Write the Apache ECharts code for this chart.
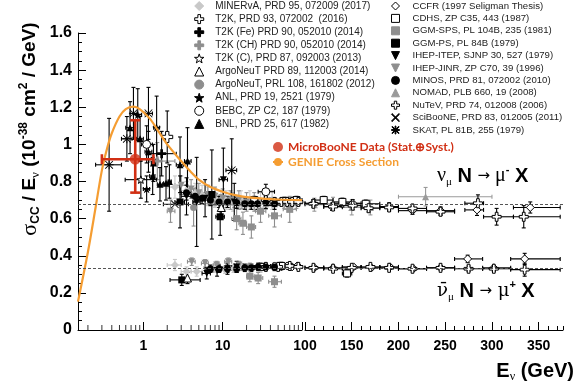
<!DOCTYPE html>
<html>
<head>
<meta charset="utf-8">
<script src="https://cdn.jsdelivr.net/npm/echarts@6/dist/echarts.min.js"></script>
<style>
html, body { margin: 0; padding: 0; background: #fff; }
#chart { width: 579px; height: 390px; }
</style>
</head>
<body>
<div id="chart"></div>
<script>
/* GENIE 预测曲线 */
var genieE = [0.15, 0.2, 0.25, 0.3, 0.35, 0.4, 0.5, 0.6, 0.75, 0.9, 1.2, 1.5, 2, 3, 4, 5, 7, 10, 15, 20, 30, 50, 100];
var genieXsec = [0.153, 0.42, 0.66, 0.86, 0.98, 1.06, 1.15, 1.19, 1.203, 1.19, 1.14, 1.08, 1.0, 0.91, 0.85, 0.81, 0.77, 0.745, 0.725, 0.716, 0.709, 0.703, 0.70];

/* 世界平均 (虚线) */
var nuAvg = 0.677;
var nubarAvg = 0.334;

/* 数据点: [E, sigma/E, E下限, E上限, 误差(上), 误差(下)] */
var microboone = [[0.79, 0.92, 0.30, 1.34, 0.21, 0.18]];

var minervaNu = [[2.5,0.77,2,3,0.06],[3.5,0.75,3,4,0.05],[4.5,0.74,4,5,0.05],[5.5,0.73,5,6,0.05],[6.5,0.72,6,7,0.05],[8,0.71,7,9,0.05],[9.5,0.70,9,10,0.05],[11,0.70,10,12,0.05],[13.5,0.69,12,15,0.05],[17,0.70,15,20,0.05],[22,0.70,20,25,0.05],[30,0.69,25,35,0.05],[42,0.70,35,50,0.05]];
var minervaNubar = [[2.5,0.35,2,3,0.03],[3.5,0.315,3,4,0.025],[4.7,0.315,4,5.5,0.025],[8,0.33,7,9,0.02],[10.7,0.325,9.5,12,0.02],[13.7,0.33,12,15,0.02],[17,0.34,15,20,0.02],[22,0.335,20,25,0.02],[30,0.33,25,35,0.02]];
var t2kNu = [[2.0,1.04,2.0,2.0,0.14]];
var t2kFeNu = [[1.7,0.95,1.1,2.6,0.12]];
var t2kChNu = [[1.5,0.91,1.2,2.5,0.1]];
var t2kCNu = [[0.93,0.81,0.59,1.47,0.1]];
var argoPrdNu = [[9.6,0.66,9.6,9.6,0.06]];
var argoPrdNubar = [[3.6,0.28,3.6,3.6,0.03]];
var argoPrlNu = [[4.3,0.66,4.3,4.3,0.1]];
var anlNu = [[0.85,1.16,0.75,0.95,0.14],[1.1,0.76,1.0,1.2,0.07],[1.47,1.09,1.35,1.6,0.17]];
var bebcNu = [[1.1,1.0,0.95,1.3,0.1],[35,0.745,28,45,0.04]];
var bnlNu = [[0.68,1.09,0.6,0.76,0.14],[0.91,1.03,0.82,1.0,0.12],[1.16,0.96,1.05,1.28,0.11],[1.34,0.9,1.26,1.43,0.1],[1.31,0.83,1.2,1.4,0.1],[1.62,0.785,1.5,1.75,0.09],[1.93,0.79,1.8,2.05,0.09],[2.13,0.8,2.05,2.25,0.09],[2.9,0.89,2.6,3.2,0.15],[3.6,0.91,3.3,4.0,0.18]];
var ccfrNu = [[35,0.70,30,40,0.015],[45,0.695,40,50,0.015],[55,0.69,50,60,0.015],[65,0.695,60,70,0.015],[75,0.69,70,80,0.015],[87,0.69,80,95,0.015],[109,0.683,100,120,0.02],[129,0.664,120,140,0.02],[140,0.683,130,150,0.02],[151,0.683,140,160,0.02],[190,0.665,180,200,0.02],[215,0.643,200,230,0.02],[245,0.643,230,260,0.02],[284,0.647,271,291,0.03],[341,0.66,323,373,0.03]];
var ccfrNubar = [[35,0.34,30,40,0.01],[45,0.345,40,50,0.01],[55,0.34,50,60,0.01],[65,0.345,60,70,0.01],[75,0.34,70,80,0.01],[87,0.345,80,95,0.01],[110,0.335,100,120,0.01],[130,0.335,120,140,0.01],[152,0.34,140,160,0.01],[171,0.335,160,180,0.01],[191,0.34,180,200,0.01],[216,0.33,200,230,0.01],[245,0.335,230,260,0.01],[274,0.383,260,290,0.02],[302,0.335,290,320,0.01],[335,0.383,320,373,0.03]];
var cdhsNu = [[25,0.70,20,30,0.02],[40,0.69,30,50,0.02],[60,0.695,50,70,0.02],[85,0.70,70,100,0.02],[120,0.70,110,130,0.02],[140,0.69,130,150,0.02],[165,0.68,150,180,0.02]];
var cdhsNubar = [[30,0.34,25,35,0.02],[55,0.345,45,65,0.02],[145,0.305,140,150,0.02]];
var ggmSpsNu = [[15,0.6,13,17,0.06],[18,0.575,16,20,0.06],[23,0.555,20,26,0.06],[30,0.64,26,35,0.06],[45,0.615,38,55,0.06],[70,0.65,58,85,0.07]];
var ggmSpsNubar = [[22,0.29,20,25,0.03],[28,0.28,25,32,0.03],[45,0.26,38,55,0.03]];
var ggmPsNu = [[2.9,0.69,2.5,3.3,0.14],[7.3,0.73,6.5,8.2,0.24],[9.3,0.61,8.2,10.5,0.1]];
var ggmPsNubar = [[3.05,0.27,2.17,5.2,0.03]];
var ihepItepNu = [[3.5,0.72,3,4,0.1],[4.7,0.69,4.2,5.2,0.24],[6,0.71,5.3,6.8,0.1],[10.2,0.81,9,11.5,0.17],[14,0.69,12,16,0.1]];
var ihepItepNubar = [[6.3,0.305,5.5,7,0.03],[8.5,0.32,7.5,9.5,0.03],[11.5,0.33,10,13,0.03],[15,0.34,13,17,0.03]];
var ihepJinrNu = [[2.2,0.64,2,2.5,0.06],[3,0.78,2.5,3.5,0.05],[4,0.76,3.5,4.5,0.05],[5,0.74,4.5,5.5,0.05],[6.5,0.73,5.8,7.2,0.05],[8,0.72,7.2,9,0.05],[10,0.71,9,11,0.05],[12.5,0.70,11,14,0.05],[16,0.70,14,18,0.05],[20,0.69,18,22,0.05],[25,0.69,22,28,0.05]];
var ihepJinrNubar = [[4.07,0.368,3.6,4.5,0.02],[6.0,0.359,5.4,6.6,0.02],[8.4,0.35,7.6,9.2,0.02],[11.8,0.368,10.6,13,0.02],[16,0.35,14,18,0.02],[22,0.34,19,25,0.02]];
var minosNu = [[3.5,0.74,3,4,0.04],[4.5,0.72,4,5,0.03],[5.5,0.71,5,6,0.03],[7,0.70,6,8,0.03],[9,0.69,8,10,0.03],[11.5,0.69,10,13,0.03],[15,0.685,13,17,0.03],[19,0.68,17,21,0.03],[23,0.68,21,25,0.03],[27.5,0.68,25,30,0.03],[35,0.685,30,40,0.03],[45,0.68,40,50,0.03]];
var minosNubar = [[7,0.33,6,8,0.02],[9,0.33,8,10,0.02],[11.5,0.33,10,13,0.02],[15,0.33,13,17,0.02],[19,0.335,17,21,0.02],[23,0.335,21,25,0.02],[28,0.34,25,32,0.02],[35,0.34,32,40,0.02],[45,0.34,40,50,0.02]];
var nomadNu = [[4.5,0.72,4,5,0.04],[7.5,0.70,6.5,8.5,0.03],[9.5,0.70,8.5,10.5,0.03],[11.5,0.69,10.5,12.5,0.03],[14,0.69,12.5,15.5,0.03],[17.5,0.685,15.5,19.5,0.03],[22.5,0.68,19.5,25,0.03],[27.5,0.68,25,30,0.03],[35,0.68,30,40,0.03],[45,0.68,40,50,0.03],[60,0.685,50,70,0.03],[85,0.685,70,100,0.03],[110,0.675,100,120,0.035],[130,0.68,120,140,0.035],[150,0.66,140,160,0.04],[170,0.66,160,180,0.04],[229,0.718,200,300,0.05]];
var nutevNu = [[35,0.70,30,40,0.02],[45,0.69,40,50,0.02],[55,0.69,50,60,0.02],[65,0.69,60,70,0.02],[75,0.69,70,80,0.02],[90,0.69,80,100,0.02],[109,0.68,100,120,0.02],[130,0.665,120,140,0.02],[151,0.67,140,160,0.02],[168,0.656,160,180,0.02],[190,0.66,180,200,0.02],[215,0.655,200,230,0.02],[245,0.637,230,260,0.02],[285,0.683,271,291,0.045],[305,0.61,291,323,0.045],[334,0.61,323,373,0.06]];
var nutevNubar = [[35,0.34,30,40,0.01],[50,0.34,40,60,0.01],[70,0.345,60,80,0.01],[90,0.34,80,100,0.01],[109,0.335,100,120,0.01],[130,0.33,120,140,0.01],[150,0.335,140,160,0.01],[170,0.34,160,180,0.01],[190,0.335,180,200,0.01],[215,0.33,200,230,0.01],[245,0.335,230,260,0.01],[275,0.33,260,290,0.015],[302,0.33,290,320,0.015],[335,0.325,320,373,0.035]];
var scibooneNu = [[2.5,0.677,1.79,3.7,0]];
var skatNu = [[0.37,0.89,0.25,0.53,0.25],[0.62,1.03,0.53,0.72,0.12],[0.75,1.167,0.68,0.83,0.14],[1.16,1.167,1.05,1.3,0.14],[13,0.86,11,15,0.17]];

/* 图例 */
var legendLeft = ['MINERvA, PRD 95, 072009 (2017)', 'T2K, PRD 93, 072002  (2016)', 'T2K (Fe) PRD 90, 052010 (2014)', 'T2K (CH) PRD 90, 052010 (2014)', 'T2K (C), PRD 87, 092003 (2013)', 'ArgoNeuT PRD 89, 112003 (2014)', 'ArgoNeuT, PRL 108, 161802 (2012)', 'ANL, PRD 19, 2521 (1979)', 'BEBC, ZP C2, 187 (1979)', 'BNL, PRD 25, 617 (1982)'];
var legendRight = ['CCFR (1997 Seligman Thesis)', 'CDHS, ZP C35, 443 (1987)', 'GGM-SPS, PL 104B, 235 (1981)', 'GGM-PS, PL 84B (1979)', 'IHEP-ITEP, SJNP 30, 527 (1979)', 'IHEP-JINR, ZP C70, 39 (1996)', 'MINOS, PRD 81, 072002 (2010)', 'NOMAD, PLB 660, 19 (2008)', 'NuTeV, PRD 74, 012008 (2006)', 'SciBooNE, PRD 83, 012005 (2011)', 'SKAT, PL 81B, 255 (1979)'];

/* 符号 (全部用 path, 图例里保持比例) */
var starPath = 'path://M50,0L61.8,35.1L98.1,35.4L69,57.2L79.4,91.9L50,70.9L20.6,91.9L31,57.2L1.9,35.4L38.2,35.1Z';
var crossPath = 'path://M35,0H65V35H100V65H65V100H35V65H0V35H35Z';
var asteriskPath = 'path://M45,0H55V100H45Z M0,45H100V55H0Z M4,11L11,4L96,89L89,96Z M89,4L96,11L11,96L4,89Z';
var xPath = 'path://M4,11L11,4L96,89L89,96Z M89,4L96,11L11,96L4,89Z';
var diamondPath = 'path://M50,0L100,50L50,100L0,50Z';
var rectPath = 'path://M0,0H100V100H0Z';
var triUpPath = 'path://M50,0L100,100H0Z';
var triDownPath = 'path://M0,0H100L50,100Z';
var circlePath = 'path://M0,50A50,50 0 1,0 100,50A50,50 0 1,0 0,50Z';

var BLACK = '#000', GRAY = '#8e8e8e', LIGHT = '#c8c8c8';
var experiments = [
	{ name: legendLeft[0], sets: [minervaNu, minervaNubar], symbol: diamondPath, size: 8, fill: LIGHT, bar: LIGHT },
	{ name: legendRight[5], sets: [ihepJinrNu, ihepJinrNubar], symbol: triDownPath, size: 7, fill: GRAY, bar: GRAY },
	{ name: legendRight[7], sets: [nomadNu], symbol: triUpPath, size: 7, fill: '#9a9a9a', bar: '#9a9a9a' },
	{ name: legendRight[2], sets: [ggmSpsNu, ggmSpsNubar], symbol: rectPath, size: 7, fill: GRAY, bar: GRAY },
	{ name: legendLeft[3], sets: [t2kChNu], symbol: crossPath, size: 9, fill: GRAY, bar: GRAY },
	{ name: legendLeft[6], sets: [argoPrlNu], symbol: circlePath, size: 7, fill: GRAY, bar: GRAY },
	{ name: legendRight[0], sets: [ccfrNu, ccfrNubar], symbol: diamondPath, size: 8, fill: '#fff', border: BLACK, bar: BLACK },
	{ name: legendRight[1], sets: [cdhsNu, cdhsNubar], symbol: rectPath, size: 7, fill: '#fff', border: BLACK, bar: BLACK },
	{ name: legendRight[8], sets: [nutevNu, nutevNubar], symbol: crossPath, size: 9, fill: '#fff', border: BLACK, bar: BLACK },
	{ name: legendRight[6], sets: [minosNu, minosNubar], symbol: circlePath, size: 7, fill: BLACK, bar: BLACK },
	{ name: legendRight[4], sets: [ihepItepNu, ihepItepNubar], symbol: triDownPath, size: 7, fill: BLACK, bar: BLACK },
	{ name: legendRight[3], sets: [ggmPsNu, ggmPsNubar], symbol: rectPath, size: 7, fill: BLACK, bar: BLACK },
	{ name: legendLeft[9], sets: [bnlNu], symbol: triUpPath, size: 7, fill: BLACK, bar: BLACK },
	{ name: legendLeft[7], sets: [anlNu], symbol: starPath, size: 9, fill: BLACK, bar: BLACK },
	{ name: legendLeft[8], sets: [bebcNu], symbol: circlePath, size: 8, fill: '#fff', border: BLACK, bar: BLACK },
	{ name: legendLeft[1], sets: [t2kNu], symbol: crossPath, size: 11, fill: '#fff', border: BLACK, bar: BLACK },
	{ name: legendLeft[2], sets: [t2kFeNu], symbol: crossPath, size: 9, fill: BLACK, bar: BLACK },
	{ name: legendLeft[4], sets: [t2kCNu], symbol: starPath, size: 8, fill: '#fff', border: BLACK, bar: BLACK },
	{ name: legendLeft[5], sets: [argoPrdNu, argoPrdNubar], symbol: triUpPath, size: 8, fill: '#fff', border: BLACK, bar: BLACK },
	{ name: legendRight[9], sets: [scibooneNu], symbol: xPath, size: 8, fill: BLACK, bar: BLACK },
	{ name: legendRight[10], sets: [skatNu], symbol: asteriskPath, size: 9, fill: BLACK, bar: BLACK }
];

var RED = '#d12f14', ORANGE = '#f59d32';
var FONT = 'Liberation Sans';

function errRenderer(color, width, cap) {
	return function(params, api) {
		var x = api.value(0), y = api.value(1), x0 = api.value(2), x1 = api.value(3);
		var up = api.value(4), dn = api.value(5);
		if(!(dn >= 0)) dn = up;
		var c = api.coord([x, y]);
		var kids = [];
		function seg(a, b, p, q) {
			kids.push({ type: 'line', shape: { x1: a, y1: b, x2: p, y2: q }, style: { stroke: color, lineWidth: width, fill: null } });
		}
		if(x1 > x0) {
			var l = api.coord([x0, y])[0], r = api.coord([x1, y])[0];
			seg(l, c[1], r, c[1]);
			seg(l, c[1] - cap, l, c[1] + cap);
			seg(r, c[1] - cap, r, c[1] + cap);
		}
		if(up > 0) {
			var t = api.coord([x, y + up])[1], b = api.coord([x, y - dn])[1];
			seg(c[0], t, c[0], b);
			seg(c[0] - cap, t, c[0] + cap, t);
			seg(c[0] - cap, b, c[0] + cap, b);
		}
		return { type: 'group', children: kids };
	};
}

var series = [];
/* 先画散点(图例取第一个同名系列) */
experiments.forEach(function(ex) {
	var pts = [].concat.apply([], ex.sets);
	[0, 1].forEach(function(g) {
		var sel = pts.filter(function(d) { return g === 0 ? d[0] <= 100 : d[0] > 100; });
		if(!sel.length) return;
		series.push({
			name: ex.name, type: 'scatter', xAxisIndex: g, yAxisIndex: g, z: 3,
			symbol: ex.symbol, symbolSize: ex.size, symbolKeepAspect: true,
			itemStyle: { color: ex.fill, borderColor: ex.border || ex.fill, borderWidth: ex.border ? 1 : 0, opacity: 1 },
			data: sel.map(function(d) { return [d[0], d[1]]; })
		});
		series.push({
			name: ex.name, type: 'custom', xAxisIndex: g, yAxisIndex: g, z: 2,
			renderItem: errRenderer(ex.bar, 1.1, 2), data: sel
		});
	});
});

/* GENIE */
series.push({
	name: 'GENIE Cross Section', type: 'line', xAxisIndex: 0, yAxisIndex: 0, z: 4,
	symbol: 'none', smooth: 0.3,
	lineStyle: { color: ORANGE, width: 2.2 }, itemStyle: { color: ORANGE },
	data: genieE.map(function(e, i) { return [e, genieXsec[i]]; })
});
/* MicroBooNE */
series.push({
	name: 'MicroBooNE Data (Stat.⊕Syst.)', type: 'scatter', xAxisIndex: 0, yAxisIndex: 0, z: 6,
	symbol: 'circle', symbolSize: 11, itemStyle: { color: RED },
	data: microboone.map(function(d) { return [d[0], d[1]]; })
});
series.push({
	name: 'MicroBooNE Data (Stat.⊕Syst.)', type: 'custom', xAxisIndex: 0, yAxisIndex: 0, z: 5,
	renderItem: errRenderer(RED, 2.6, 5), data: microboone
});

/* 虚线 */
var dashLine = {
	silent: true, symbol: 'none', label: { show: false },
	lineStyle: { color: '#555', width: 1, type: [3, 2] },
	data: [{ yAxis: nuAvg }, { yAxis: nubarAvg }]
};
[0, 1].forEach(function(g) {
	series.push({ type: 'line', xAxisIndex: g, yAxisIndex: g, z: 1, data: [], markLine: dashLine });
});

/* 对数轴小刻度 */
var logMinor = [];
[0.1, 1, 10].forEach(function(p) {
	for(var m = 2; m <= 9; m++) {
		var v = +(m * p).toFixed(3);
		if(v >= 0.15) logMinor.push([v, 0]);
	}
});
series.push({
	type: 'scatter', xAxisIndex: 0, yAxisIndex: 0, z: 5, silent: true, clip: false,
	symbol: 'rect', symbolSize: [1, 5], symbolOffset: [0, -2.5],
	itemStyle: { color: '#000' }, data: logMinor
});

function isDecade(v) {
	var l = Math.log(v) / Math.LN10;
	return Math.abs(l - Math.round(l)) < 1e-6;
}

var labelStyle = { color: '#000', fontWeight: 'bold', fontFamily: FONT };

var option = {
	animation: false,
	backgroundColor: '#fff',
	grid: [
		{ left: 78, top: 33, width: 224, height: 297 },
		{ left: 305, top: 33, width: 258, height: 297 }
	],
	xAxis: [{
		type: 'log', gridIndex: 0, logBase: 10, min: 0.15, max: 100,
		axisLine: { lineStyle: { color: '#000', width: 1 } },
		axisTick: { inside: true, length: 8, lineStyle: { color: '#000' } },
		axisLabel: Object.assign({ fontSize: 14, margin: 9, formatter: function(v) {
			return (isDecade(v) && v < 100) ? String(Math.round(v)) : '';
		} }, labelStyle),
		splitLine: { show: false }
	}, {
		type: 'value', gridIndex: 1, min: 100, max: 376, interval: 50,
		axisLine: { lineStyle: { color: '#000', width: 1 } },
		axisTick: { inside: true, length: 8, lineStyle: { color: '#000' }, customValues: [100, 150, 200, 250, 300, 350] },
		axisLabel: Object.assign({ fontSize: 14, margin: 9, customValues: [100, 150, 200, 250, 300, 350], formatter: function(v) {
			return v % 50 === 0 ? String(v) : '';
		} }, labelStyle),
		splitLine: { show: false }
	}, {
		type: 'value', gridIndex: 1, min: 100, max: 376, interval: 10, position: 'bottom',
		axisLine: { show: false },
		axisTick: { inside: true, length: 4, lineStyle: { color: '#000' } },
		axisLabel: { show: false },
		splitLine: { show: false }
	}],
	yAxis: [{
		type: 'value', gridIndex: 0, min: 0, max: 1.6, interval: 0.2,
		axisLine: { show: true, lineStyle: { color: '#000', width: 1 } },
		axisTick: { show: true, inside: true, length: 8, lineStyle: { color: '#000' } },
		minorTick: { show: true, splitNumber: 4, length: 4, lineStyle: { color: '#000' } },
		axisLabel: Object.assign({ fontSize: 16, margin: 6 }, labelStyle),
		splitLine: { show: false }
	}, {
		type: 'value', gridIndex: 1, min: 0, max: 1.6, show: false
	}],
	legend: [{
		orient: 'vertical', left: 194, top: 1, padding: 0,
		itemWidth: 22, itemHeight: 9, itemGap: 3.1, selectedMode: false, symbolKeepAspect: true,
		itemStyle: { borderWidth: 1 },
		textStyle: { fontSize: 10, color: '#222', fontFamily: FONT },
		data: legendLeft
	}, {
		orient: 'vertical', left: 391, top: 1, padding: 0,
		itemWidth: 24, itemHeight: 8, itemGap: 2.4, selectedMode: false, symbolKeepAspect: true,
		itemStyle: { borderWidth: 1 },
		textStyle: { fontSize: 9.6, color: '#222', fontFamily: FONT },
		data: legendRight
	}, {
		orient: 'vertical', left: 272, top: 141, padding: 0,
		itemWidth: 10, itemHeight: 10, itemGap: 3, selectedMode: false,
		textStyle: { fontSize: 12, fontWeight: 'bold', fontFamily: 'Lato' },
		data: [
			{ name: 'MicroBooNE Data (Stat.⊕Syst.)', textStyle: { color: RED } },
			{ name: 'GENIE Cross Section', textStyle: { color: ORANGE } }
		]
	}],
	graphic: [{
		type: 'text', x: 30, y: 129, rotation: Math.PI / 2,
		style: {
			text: '{g|σ}{sub|CC}{b| / E}{subg|ν}{b| (10}{sup|-38}{b| cm}{sup|2}{b| / GeV)}',
			align: 'center', verticalAlign: 'middle', fill: '#000',
			rich: {
				g: { fontFamily: 'Liberation Serif', fontSize: 22, lineHeight: 24, verticalAlign: 'middle' },
				b: { fontFamily: FONT, fontWeight: 'bold', fontSize: 19, lineHeight: 24, verticalAlign: 'middle' },
				sub: { fontFamily: FONT, fontWeight: 'bold', fontSize: 12, lineHeight: 12, verticalAlign: 'bottom' },
				subg: { fontFamily: 'Liberation Serif', fontSize: 13, lineHeight: 12, verticalAlign: 'bottom' },
				sup: { fontFamily: FONT, fontWeight: 'bold', fontSize: 12, lineHeight: 12, verticalAlign: 'top' }
			}
		}
	}, {
		type: 'text', x: 574, y: 371,
		style: {
			text: '{b|E}{sub|ν}{b| (GeV)}', align: 'right', verticalAlign: 'middle', fill: '#000',
			rich: {
				b: { fontFamily: FONT, fontWeight: 'bold', fontSize: 20, lineHeight: 24, verticalAlign: 'middle' },
				sub: { fontFamily: 'Liberation Serif', fontSize: 12, lineHeight: 12, verticalAlign: 'bottom' }
			}
		}
	}, {
		type: 'text', x: 437, y: 176,
		style: {
			text: '{g|ν}{sub|μ}{b| N }{ar|→}{g| μ}{sup|-}{b| X}', align: 'left', verticalAlign: 'middle', fill: '#000',
			rich: {
				g: { fontFamily: 'Liberation Serif', fontSize: 20, lineHeight: 24, verticalAlign: 'middle' },
				b: { fontFamily: FONT, fontWeight: 'bold', fontSize: 20, lineHeight: 24, verticalAlign: 'middle' },
				ar: { fontFamily: 'DejaVu Sans', fontSize: 15, lineHeight: 24, verticalAlign: 'middle' },
				sub: { fontFamily: 'Liberation Serif', fontSize: 11, lineHeight: 12, verticalAlign: 'bottom' },
				sup: { fontFamily: FONT, fontWeight: 'bold', fontSize: 11, lineHeight: 12, verticalAlign: 'top' }
			}
		}
	}, {
		type: 'text', x: 437, y: 291,
		style: {
			text: '{g|ν\u0304}{sub|μ}{b| N }{ar|→}{g| μ}{sup|+}{b| X}', align: 'left', verticalAlign: 'middle', fill: '#000',
			rich: {
				g: { fontFamily: 'DejaVu Serif', fontSize: 18, lineHeight: 24, verticalAlign: 'middle' },
				b: { fontFamily: FONT, fontWeight: 'bold', fontSize: 20, lineHeight: 24, verticalAlign: 'middle' },
				ar: { fontFamily: 'DejaVu Sans', fontSize: 15, lineHeight: 24, verticalAlign: 'middle' },
				sub: { fontFamily: 'Liberation Serif', fontSize: 11, lineHeight: 12, verticalAlign: 'bottom' },
				sup: { fontFamily: FONT, fontWeight: 'bold', fontSize: 11, lineHeight: 12, verticalAlign: 'top' }
			}
		}
	}],
	series: series
};

var myChart = echarts.init(document.getElementById('chart'));
myChart.setOption(option);
</script>
</body>
</html>
